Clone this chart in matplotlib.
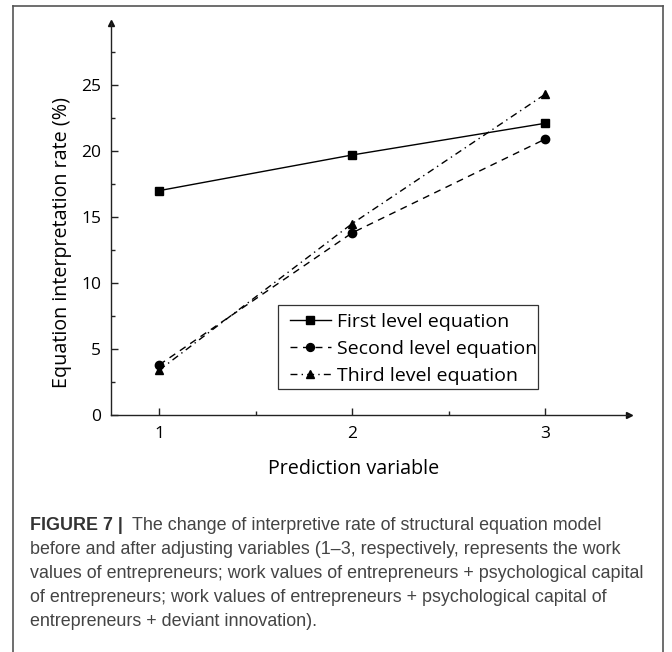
import matplotlib
matplotlib.use("Agg")
import matplotlib.pyplot as plt
from matplotlib.lines import Line2D
from matplotlib.patches import Rectangle

# ---- data ----
x_vals = [1, 2, 3]
first_level = [17.0, 19.7, 22.1]
second_level = [3.8, 13.8, 20.9]
third_level = [3.4, 14.5, 24.3]
series_labels = ["First level equation", "Second level equation", "Third level equation"]
x_ticks = [1, 2, 3]
y_ticks = [0, 5, 10, 15, 20, 25]
x_label = "Prediction variable"
y_label = "Equation interpretation rate (%)"
caption_bold = "FIGURE 7 |"
caption_lines = [
    "The change of interpretive rate of structural equation model",
    "before and after adjusting variables (1\u20133, respectively, represents the work",
    "values of entrepreneurs; work values of entrepreneurs + psychological capital",
    "of entrepreneurs; work values of entrepreneurs + psychological capital of",
    "entrepreneurs + deviant innovation).",
]

W, H = 672, 652
fig = plt.figure(figsize=(W / 100, H / 100), dpi=100)

def fx(px):
    return px / W

def fy(py):
    return 1 - py / H

chart_font = "Open Sans"
cap_font = "Liberation Sans"

# axes: x from 0.75 (px 111) to 3.435 (px 629); y from 0 (px 415) to 29.7 (px 23)
ax = fig.add_axes([fx(111), fy(415), fx(629) - fx(111), fy(23) - fy(415)])
ax.set_xlim(0.75, 3.435)
ax.set_ylim(0, 29.7)
ax.patch.set_alpha(0)
for s in ["top", "right"]:
    ax.spines[s].set_visible(False)
for s in ["left", "bottom"]:
    ax.spines[s].set_linewidth(1.0)
    ax.spines[s].set_color("#222222")

ax.plot(1, 0, ">", color="#111111", markersize=5, transform=ax.transAxes, clip_on=False)
ax.plot(0, 1, "^", color="#111111", markersize=5, transform=ax.transAxes, clip_on=False)

ax.plot(x_vals, first_level, "-", marker="s", color="black", lw=1.0, markersize=6, label=series_labels[0])
ax.plot(x_vals, second_level, "--", marker="o", color="black", lw=1.0, markersize=6,
        dashes=(5, 4), label=series_labels[1])
ax.plot(x_vals, third_level, "-.", marker="^", color="black", lw=1.0, markersize=6,
        dashes=(5, 3, 1, 3), label=series_labels[2])

ax.set_xticks(x_ticks)
ax.set_xticks([1.5, 2.5], minor=True)
ax.set_yticks(y_ticks)
ax.set_yticks([2.5, 7.5, 12.5, 17.5, 22.5, 27.5], minor=True)
ax.tick_params(which="major", direction="in", length=5, width=1.0, color="#222222",
               labelsize=12.5, pad=8)
ax.tick_params(which="minor", direction="in", length=3, width=1.0, color="#222222")
ax.tick_params(axis="y", pad=7)
for lab in ax.get_xticklabels() + ax.get_yticklabels():
    lab.set_fontfamily(chart_font)

fig.text(fx(354), fy(469), x_label, fontsize=14.2, family=chart_font, ha="center", va="center")
fig.text(fx(62), fy(243), y_label, fontsize=14.2, family=chart_font, ha="center", va="center",
         rotation=90)

# legend
leg = fig.legend(loc="upper left", bbox_to_anchor=(fx(290), fy(313)), frameon=False,
                 prop={"family": chart_font, "size": 14}, handlelength=2.1,
                 handletextpad=0.3, labelspacing=0.47, markerscale=0.95,
                 borderpad=0, borderaxespad=0)
fig.add_artist(Rectangle((fx(278), fy(389)), fx(538) - fx(278), fy(305) - fy(389),
                         transform=fig.transFigure, fill=False, edgecolor="#333333", lw=0.9))

# outer frame
fc = "#555555"
fig.add_artist(Line2D([fx(13), fx(13)], [fy(6), fy(652)], color=fc, lw=1.2))
fig.add_artist(Line2D([fx(13), fx(663)], [fy(6), fy(6)], color=fc, lw=1.2))
fig.add_artist(Line2D([fx(663), fx(663)], [fy(6), fy(652)], color=fc, lw=1.2))

# caption
cap_color = "#444444"
cap_size = 12.9
ys = [525, 549, 573, 597, 621]
fig.text(fx(30), fy(ys[0]), caption_bold, fontsize=cap_size, family=cap_font, weight="bold",
         color="#333333", ha="left", va="center")
fig.text(fx(132), fy(ys[0]), caption_lines[0], fontsize=cap_size, family=cap_font,
         color=cap_color, ha="left", va="center")
for yy, line in zip(ys[1:], caption_lines[1:]):
    fig.text(fx(30), fy(yy), line, fontsize=cap_size, family=cap_font, color=cap_color,
             ha="left", va="center")

fig.savefig("out.png", dpi=100)
